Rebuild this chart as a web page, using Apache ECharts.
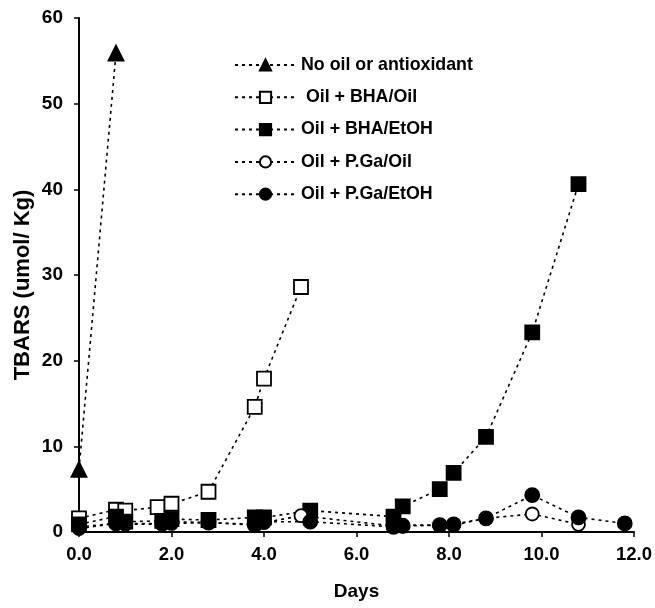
<!DOCTYPE html>
<html>
<head>
<meta charset="utf-8">
<script src="https://cdn.jsdelivr.net/npm/echarts@6/dist/echarts.min.js"></script>
<style>
  body { margin: 0; background: #fff; }
  #chart { width: 655px; height: 608px; }
</style>
</head>
<body>
<div id="chart"></div>
<script>
// 数据
var noOilDays = [0, 0.8];
var noOilVals = [7.3, 55.9];

var bhaOilDays = [0, 0.8, 1.0, 1.7, 2.0, 2.8, 3.8, 4.0, 4.8];
var bhaOilVals = [1.6, 2.6, 2.5, 2.9, 3.3, 4.7, 14.6, 17.9, 28.6];

var bhaEtohDays = [0, 0.8, 1.0, 1.8, 2.0, 2.8, 3.8, 4.0, 5.0, 6.8, 7.0, 7.8, 8.1, 8.8, 9.8, 10.8];
var bhaEtohVals = [0.9, 1.8, 1.2, 1.3, 1.5, 1.4, 1.7, 1.7, 2.5, 1.8, 3.0, 5.0, 6.9, 11.1, 23.3, 40.6];

var pgaOilDays = [0, 0.8, 1.0, 1.8, 2.0, 2.8, 3.8, 4.0, 4.8, 6.8, 7.0, 7.8, 8.1, 8.8, 9.8, 10.8];
var pgaOilVals = [0.4, 1.0, 0.9, 0.9, 1.0, 1.1, 0.9, 1.1, 1.9, 0.7, 0.8, 0.8, 0.8, 1.6, 2.1, 0.9];

var pgaEtohDays = [0, 0.8, 1.0, 1.8, 2.0, 2.8, 3.8, 4.0, 5.0, 6.8, 7.0, 7.8, 8.1, 8.8, 9.8, 10.8, 11.8];
var pgaEtohVals = [0.6, 1.0, 1.0, 1.0, 1.2, 1.1, 0.8, 1.2, 1.2, 0.6, 0.7, 0.8, 0.9, 1.6, 4.3, 1.7, 1.0];

var seriesNames = ['No oil or antioxidant', ' Oil + BHA/Oil', 'Oil + BHA/EtOH', 'Oil + P.Ga/Oil', 'Oil + P.Ga/EtOH'];

function pairs(xs, ys) {
    return xs.map(function (x, i) { return [x, ys[i]]; });
}

var font = 'Arial, "Liberation Sans", sans-serif';

function makeSeries(name, xs, ys, symbol, size, filled) {
    return {
        name: name,
        type: 'line',
        data: pairs(xs, ys),
        symbol: symbol,
        symbolSize: size,
        showAllSymbol: true,
        lineStyle: { color: '#000', width: 1.6, type: [3, 4] },
        itemStyle: {
            color: filled ? '#000' : '#fff',
            borderColor: '#000',
            borderWidth: 1.8
        },
        emphasis: { disabled: true },
        z: 2
    };
}

var myChart = echarts.init(document.getElementById('chart'));
myChart.setOption({
    animation: false,
    grid: { left: 79, right: 21, top: 18, bottom: 76 },
    legend: {
        orient: 'vertical',
        left: 229,
        top: 51,
        itemGap: 14.3,
        itemWidth: 61,
        itemHeight: 14,
        textStyle: { fontFamily: font, fontWeight: 'bold', fontSize: 17.8, color: '#000' },
        data: seriesNames
    },
    xAxis: {
        type: 'value',
        min: 0,
        max: 12,
        interval: 2,
        name: 'Days',
        nameLocation: 'middle',
        nameGap: 50,
        nameMoveOverlap: false,
        nameTextStyle: { fontFamily: font, fontWeight: 'bold', fontSize: 19, color: '#000' },
        axisLine: { onZero: false, lineStyle: { color: '#000', width: 2 } },
        axisTick: { inside: false, length: 5, lineStyle: { color: '#000', width: 1.5 } },
        axisLabel: {
            fontFamily: font, fontWeight: 'bold', fontSize: 18.5, color: '#000', margin: 13,
            formatter: function (v) { return v.toFixed(1); }
        },
        splitLine: { show: false }
    },
    yAxis: {
        type: 'value',
        min: 0,
        max: 60,
        interval: 10,
        name: 'TBARS (umol/ Kg)',
        nameLocation: 'middle',
        nameGap: 45,
        nameMoveOverlap: false,
        nameRotate: 90,
        nameTextStyle: {
            fontFamily: font, fontWeight: 'bold', fontSize: 22, color: '#000',
            padding: [0, 20, 0, 0]
        },
        axisLine: { show: true, lineStyle: { color: '#000', width: 2 } },
        axisTick: { show: true, length: 5, lineStyle: { color: '#000', width: 1.5 } },
        axisLabel: { fontFamily: font, fontWeight: 'bold', fontSize: 19, color: '#000', margin: 16 },
        splitLine: { show: false }
    },
    series: [
        makeSeries(seriesNames[0], noOilDays, noOilVals, 'triangle', 15, true),
        makeSeries(seriesNames[1], bhaOilDays, bhaOilVals, 'rect', 14, false),
        makeSeries(seriesNames[2], bhaEtohDays, bhaEtohVals, 'rect', 14, true),
        makeSeries(seriesNames[3], pgaOilDays, pgaOilVals, 'circle', 13, false),
        makeSeries(seriesNames[4], pgaEtohDays, pgaEtohVals, 'circle', 14, true)
    ]
});
</script>
</body>
</html>
